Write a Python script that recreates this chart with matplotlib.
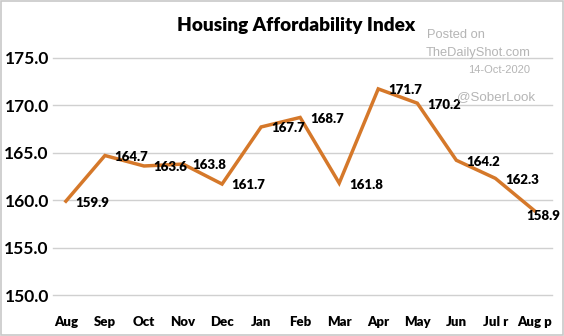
import matplotlib
matplotlib.use("Agg")
import matplotlib.pyplot as plt
from matplotlib.patches import Rectangle

# data
months = ["Aug", "Sep", "Oct", "Nov", "Dec", "Jan", "Feb", "Mar",
          "Apr", "May", "Jun", "Jul r", "Aug p"]
index_vals = [159.9, 164.7, 163.6, 163.8, 161.7, 167.7, 168.7, 161.8,
              171.7, 170.2, 164.2, 162.3, 158.9]
yticks = [150, 155, 160, 165, 170, 175]

orange = "#D5782A"
plt.rcParams['font.family'] = ['Lato', 'DejaVu Sans']

fig = plt.figure(figsize=(5.64, 3.36), dpi=100)
ax = fig.add_axes([53/564, 1-295.4/336, 499/564, (295.4-57.5)/336])

x = list(range(len(months)))
ax.plot(x, index_vals, color=orange, lw=2.5, solid_joinstyle='miter', zorder=3)

# data labels to the right of each point, last one pulled back inside
for i, v in enumerate(index_vals):
    if i < len(index_vals) - 1:
        dx, dy = 7, -1
    else:
        dx, dy = -6, -4
    ax.annotate(f"{v:.1f}", (i, v), xytext=(dx, dy),
                textcoords='offset points', ha='left', va='center',
                fontsize=9.5, fontweight='heavy', color='black', zorder=4)

ax.set_xlim(-0.33, 12.45)
ax.set_ylim(150, 175)
ax.set_yticks(yticks)
ax.set_yticklabels([f"{t:.1f}" for t in yticks], fontsize=12.5, fontweight='bold')
ax.set_xticks(x)
ax.set_xticklabels(months, fontsize=9.5, fontweight='heavy')
ax.tick_params(length=0)
ax.tick_params(axis='x', pad=15)
ax.tick_params(axis='y', pad=3)
for s in ax.spines.values():
    s.set_visible(False)
ax.grid(axis='y', color='#d0d0d0', lw=1.0)
for gl in ax.get_ygridlines():
    gl.set_clip_on(False)

fig.text(296/564, 1-26/336, "Housing Affordability Index", ha='center', va='center',
         fontsize=13.7, fontweight='heavy')

wm = '#b5b5b5'
wm_font = ['Liberation Sans', 'DejaVu Sans']
fig.text(427/564, 1-35/336, "Posted on", ha='left', va='center', fontsize=9.3,
         color=wm, family=wm_font)
fig.text(426/564, 1-53/336, "TheDailyShot.com", ha='left', va='center', fontsize=9.3,
         color=wm, family=wm_font)
fig.text(530/564, 1-70/336, "14-Oct-2020", ha='right', va='center', fontsize=8,
         color=wm, family=wm_font)
fig.text(535/564, 1-97/336, "@SoberLook", ha='right', va='center', fontsize=9.6,
         color=wm, family=wm_font)

fig.patches.append(Rectangle((0.001, 0.002), 0.997, 0.995, transform=fig.transFigure,
                             fill=False, edgecolor='#c8c8c8', lw=1.2))

fig.savefig("out.png", dpi=100)
